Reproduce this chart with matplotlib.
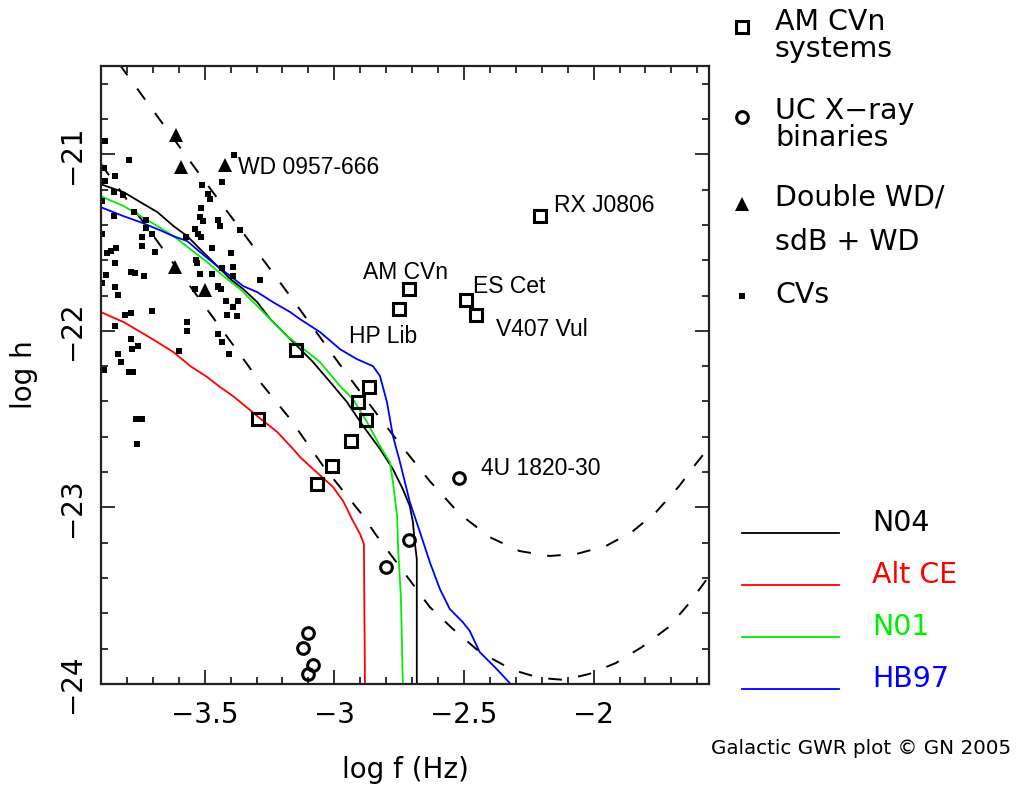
import matplotlib
matplotlib.use('Agg')
import matplotlib.pyplot as plt
from matplotlib.ticker import MultipleLocator, FuncFormatter
from matplotlib.lines import Line2D

# ---------------- data (log f [Hz], log h) ----------------
amcvn_names = ['RX J0806', 'AM CVn', 'HP Lib', 'ES Cet', 'V407 Vul',
               '', '', '', '', '', '', '', '']
amcvn_logf = [-2.208, -2.712, -2.750, -2.492, -2.455,
              -3.147, -3.293, -2.868, -2.907, -2.876, -2.937, -3.010, -3.067]
amcvn_logh = [-21.351, -21.764, -21.877, -21.826, -21.911,
              -22.109, -22.500, -22.319, -22.404, -22.505, -22.624, -22.766, -22.868]

ucxb_names = ['4U 1820-30', '', '', '', '', '', '']
ucxb_logf = [-2.520, -2.713, -2.800, -3.100, -3.120, -3.082, -3.100]
ucxb_logh = [-22.834, -23.184, -23.337, -23.711, -23.796, -23.892, -23.943]

dwd_names = ['', '', 'WD 0957-666', '', '']
dwd_logf = [-3.612, -3.590, -3.420, -3.616, -3.497]
dwd_logh = [-20.893, -21.074, -21.062, -21.639, -21.770]

cv_logf = [-3.886, -3.793, -3.890, -3.847, -3.883, -3.851, -3.817, -3.897, -3.774, -3.851,
           -3.728, -3.728, -3.705, -3.743, -3.574, -3.743, -3.693, -3.897, -3.843, -3.863,
           -3.878, -3.847, -3.786, -3.770, -3.736, -3.882, -3.897, -3.847,
           -3.386, -3.432, -3.509, -3.486, -3.478, -3.513, -3.517, -3.505, -3.447, -3.440,
           -3.536, -3.524, -3.513, -3.363, -3.470, -3.397, -3.532, -3.528, -3.432, -3.390,
           -3.517, -3.470, -3.390, -3.286, -3.447,
           -3.835, -3.808, -3.785, -3.705, -3.847, -3.570, -3.567, -3.785, -3.759, -3.782,
           -3.601, -3.836, -3.824, -3.890, -3.793, -3.778, -3.766, -3.743, -3.763,
           -3.536, -3.447, -3.436, -3.417, -3.370, -3.390, -3.413, -3.374, -3.447, -3.432, -3.405]
cv_logh = [-20.926, -21.034, -21.079, -21.125, -21.153, -21.215, -21.232, -21.266, -21.328, -21.351,
           -21.374, -21.419, -21.453, -21.470, -21.470, -21.521, -21.555, -21.453, -21.532, -21.549,
           -21.560, -21.617, -21.668, -21.673, -21.690, -21.685, -21.730, -21.753,
           -21.006, -21.158, -21.175, -21.226, -21.255, -21.306, -21.357, -21.379, -21.374, -21.407,
           -21.424, -21.453, -21.470, -21.430, -21.532, -21.560, -21.600, -21.617, -21.645, -21.640,
           -21.679, -21.679, -21.690, -21.713, -21.747,
           -21.798, -21.911, -21.900, -21.889, -21.973, -21.951, -22.002, -22.047, -22.087, -22.104,
           -22.115, -22.132, -22.177, -22.222, -22.234, -22.234, -22.500, -22.500, -22.641,
           -21.764, -21.753, -21.764, -21.832, -21.832, -21.866, -21.911, -21.917, -22.019, -22.064, -22.132]

# Detector sensitivity curves (dashed)
sens_hi_logf = [-3.829, -3.517, -3.170, -2.966, -2.836, -2.747, -2.632, -2.517, -2.401, -2.286,
                -2.171, -2.067, -1.952, -1.852, -1.759, -1.670, -1.606, -1.555]
sens_hi_logh = [-20.490, -21.119, -21.804, -22.217, -22.471, -22.641, -22.851, -23.037, -23.168, -23.247,
                -23.275, -23.264, -23.218, -23.139, -23.026, -22.879, -22.754, -22.660]
sens_lo_logf = [-3.900, -3.824, -3.286, -3.170, -3.043, -2.901, -2.836, -2.747, -2.632, -2.543,
                -2.440, -2.313, -2.209, -2.114, -2.017, -1.914, -1.813, -1.710, -1.634, -1.555]
sens_lo_logh = [-21.056, -21.209, -22.290, -22.500, -22.766, -23.026, -23.162, -23.337, -23.564, -23.688,
                -23.818, -23.920, -23.965, -23.977, -23.943, -23.881, -23.790, -23.677, -23.547, -23.390]

# Population foreground curves
n04_logf = [-3.900, -3.812, -3.747, -3.682, -3.620, -3.567, -3.517, -3.451, -3.401, -3.351,
            -3.297, -3.247, -3.197, -3.143, -3.082, -3.016, -2.951, -2.889, -2.824, -2.774,
            -2.736, -2.709, -2.697, -2.690, -2.682, -2.682]
n04_logh = [-21.170, -21.215, -21.272, -21.328, -21.407, -21.464, -21.538, -21.634, -21.707, -21.764,
            -21.838, -21.934, -22.007, -22.087, -22.177, -22.290, -22.404, -22.539, -22.669, -22.783,
            -22.896, -22.992, -23.083, -23.196, -23.292, -24.000]

altce_logf = [-3.900, -3.812, -3.747, -3.682, -3.620, -3.555, -3.490, -3.440, -3.390, -3.297,
              -3.220, -3.159, -3.132, -3.082, -3.047, -3.005, -2.966, -2.932, -2.901, -2.886, -2.882]
altce_logh = [-21.894, -21.951, -22.007, -22.064, -22.121, -22.200, -22.262, -22.319, -22.370, -22.483,
              -22.573, -22.669, -22.715, -22.783, -22.828, -22.885, -22.964, -23.066, -23.150, -23.207, -24.000]

n01_logf = [-3.900, -3.812, -3.759, -3.682, -3.620, -3.555, -3.490, -3.428, -3.363, -3.297,
            -3.236, -3.182, -3.132, -3.055, -2.978, -2.928, -2.874, -2.824, -2.786, -2.774,
            -2.758, -2.754, -2.743, -2.736]
n01_logh = [-21.238, -21.294, -21.340, -21.407, -21.464, -21.538, -21.611, -21.690, -21.764, -21.860,
            -21.951, -22.030, -22.087, -22.177, -22.313, -22.387, -22.517, -22.652, -22.743, -22.856,
            -23.049, -23.235, -23.518, -24.000]

hb97_logf = [-3.900, -3.812, -3.747, -3.682, -3.620, -3.567, -3.517, -3.451, -3.401, -3.351,
             -3.297, -3.236, -3.170, -3.132, -3.055, -2.978, -2.913, -2.851, -2.824, -2.797,
             -2.774, -2.747, -2.709, -2.670, -2.632, -2.593, -2.555, -2.505, -2.478, -2.440,
             -2.374, -2.320]
hb97_logh = [-21.300, -21.351, -21.385, -21.424, -21.464, -21.492, -21.555, -21.634, -21.690, -21.747,
             -21.781, -21.838, -21.894, -21.934, -22.007, -22.104, -22.160, -22.200, -22.256, -22.404,
             -22.596, -22.743, -22.969, -23.139, -23.309, -23.462, -23.575, -23.649, -23.699, -23.818,
             -23.915, -24.000]

curve_names = ['N04', 'Alt CE', 'N01', 'HB97']
curve_colors = ['black', '#ff0000', '#00ee00', '#0000ff']

# ---------------- figure ----------------
W, H = 1016, 794
fig = plt.figure(figsize=(W / 100, H / 100), dpi=100)
ax = fig.add_axes([101 / W, 1 - 684 / H, 608 / W, 618 / H])

TICK_FONT = 'DejaVu Sans'
LAB_FONT = 'Liberation Sans'

dash = (0, (7.0, 8.5))
ax.plot(sens_hi_logf, sens_hi_logh, color='black', lw=1.4, ls=dash)
ax.plot(sens_lo_logf, sens_lo_logh, color='black', lw=1.4, ls=dash)

curves = [(n04_logf, n04_logh), (altce_logf, altce_logh), (n01_logf, n01_logh), (hb97_logf, hb97_logh)]
for (xs, ys), c in zip(curves, curve_colors):
    ax.plot(xs, ys, color=c, lw=1.3)

ax.plot(cv_logf, cv_logh, ls='none', marker='s', ms=5.0, color='black', mew=0)
ax.plot(dwd_logf, dwd_logh, ls='none', marker='^', ms=9.5, color='black', mew=0)
ax.plot(amcvn_logf, amcvn_logh, ls='none', marker='s', ms=8.2, mfc='none', mec='black', mew=2.2)
ax.plot(ucxb_logf, ucxb_logh, ls='none', marker='o', ms=8.4, mfc='none', mec='black', mew=2.2)

# point labels (offsets in pixels)
offsets = {'RX J0806': (14, 13, 'left'), 'AM CVn': (-4, 19, 'center'), 'HP Lib': (-16, -25, 'center'),
           'ES Cet': (7, 16, 'left'), 'V407 Vul': (20, -12, 'left'), '4U 1820-30': (22, 12, 'left'),
           'WD 0957-666': (13, 0, 'left')}
for names, xs, ys in [(amcvn_names, amcvn_logf, amcvn_logh), (ucxb_names, ucxb_logf, ucxb_logh),
                      (dwd_names, dwd_logf, dwd_logh)]:
    for n, x, y in zip(names, xs, ys):
        if n:
            dx, dy, ha = offsets[n]
            ax.annotate(n, (x, y), xytext=(dx, dy), textcoords='offset pixels', ha=ha,
                        va='center_baseline', fontsize=16.5, family=LAB_FONT)

ax.set_xlim(-3.9, -1.555)
ax.set_ylim(-24.0, -20.5)
ax.xaxis.set_major_locator(MultipleLocator(0.5))
ax.xaxis.set_minor_locator(MultipleLocator(0.1))
ax.yaxis.set_major_locator(MultipleLocator(1.0))
ax.yaxis.set_minor_locator(MultipleLocator(0.2))
fmt = FuncFormatter(lambda v, p: ('%g' % round(v, 3)).replace('-', '\u2212'))
ax.xaxis.set_major_formatter(fmt)
ax.yaxis.set_major_formatter(fmt)
ax.tick_params(which='both', direction='in', top=True, right=True, width=1.3, color='#222222')
ax.tick_params(which='major', length=10)
ax.tick_params(which='minor', length=5)
ax.tick_params(axis='x', which='major', pad=12, labelsize=20)
ax.tick_params(axis='y', which='major', pad=11, labelsize=20, labelrotation=90)
for lab in ax.get_xticklabels() + ax.get_yticklabels():
    lab.set_family(TICK_FONT)
for lab in ax.get_yticklabels():
    lab.set_va('center')
for s in ax.spines.values():
    s.set_linewidth(1.6)
    s.set_color('#222222')

ax.set_xlabel('log f (Hz)', fontsize=20, family=TICK_FONT, labelpad=20)
ax.set_ylabel('log h', fontsize=20, family=TICK_FONT, labelpad=14)

# ---------------- key (right side) ----------------
def fx(px):
    return px / W

def fy(py):
    return 1 - py / H

key_items = [
    (dict(marker='s', ms=8.2, mfc='none', mec='black', mew=2.2), 27, ['AM CVn', 'systems'], [22, 49]),
    (dict(marker='o', ms=8.4, mfc='none', mec='black', mew=2.2), 117, ['UC X\u2212ray', 'binaries'], [111, 138]),
    (dict(marker='^', ms=9.5, color='black', mew=0), 204, ['Double WD/', 'sdB + WD'], [198, 242]),
    (dict(marker='s', ms=5.0, color='black', mew=0), 296, ['CVs'], [295]),
]
for style, my, lines, tys in key_items:
    fig.add_artist(Line2D([fx(742)], [fy(my)], transform=fig.transFigure, ls='none', **style))
    for t, ty in zip(lines, tys):
        fig.text(fx(775), fy(ty), t, fontsize=20.5, family=TICK_FONT, ha='left', va='center')

for i, (n, c) in enumerate(zip(curve_names, curve_colors)):
    ly = 533 + 52 * i
    fig.add_artist(Line2D([fx(742), fx(839)], [fy(ly), fy(ly)], transform=fig.transFigure, color=c, lw=1.3))
    fig.text(fx(872), fy(ly - 10), n, fontsize=20.5, family=TICK_FONT, color=c, ha='left', va='center')

fig.text(fx(1011), fy(749), 'Galactic GWR plot \u00a9 GN 2005', fontsize=14.3, family=TICK_FONT,
         ha='right', va='center')

fig.savefig('out.png', dpi=100)
